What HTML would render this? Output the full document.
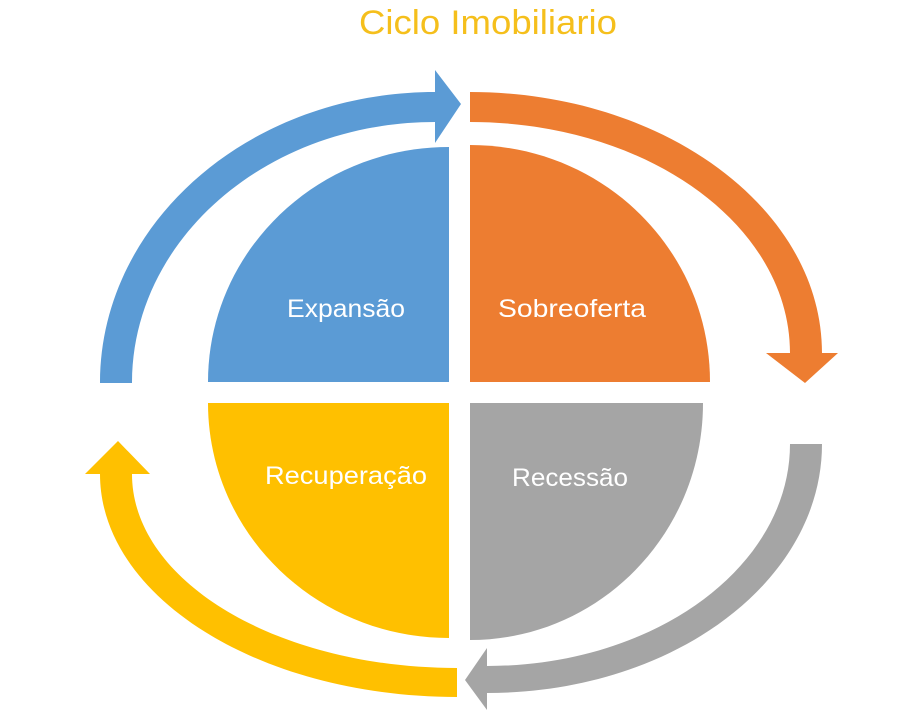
<!DOCTYPE html>
<html><head><style>
html,body{margin:0;padding:0;background:#fff;}
svg{display:block;}
text{font-family:"Liberation Sans",sans-serif;}
</style></head><body>
<svg width="920" height="720" viewBox="0 0 920 720">
<text x="488" y="34" text-anchor="middle" font-size="34" fill="#F5BF1C" textLength="258" lengthAdjust="spacingAndGlyphs">Ciclo Imobiliario</text>
<path d="M449,382 L208,382 C208,252 316,147 449,147 Z" fill="#5B9BD5"/>
<path d="M470,382 L710,382 C710,250 603,145 470,145 Z" fill="#ED7D31"/>
<path d="M470,403 L703,403 C703,534 599,640 470,640 Z" fill="#A5A5A5"/>
<path d="M449,403 L208,403 C208,533 316,638 449,638 Z" fill="#FFC000"/>
<g font-size="25" fill="#fff" text-anchor="middle">
<text x="346" y="317" textLength="118" lengthAdjust="spacingAndGlyphs">Expansão</text>
<text x="572" y="317" textLength="148" lengthAdjust="spacingAndGlyphs">Sobreoferta</text>
<text x="570" y="486" textLength="116" lengthAdjust="spacingAndGlyphs">Recessão</text>
<text x="346" y="484" textLength="162" lengthAdjust="spacingAndGlyphs">Recuperação</text>
</g>
<path d="M100,383 C100,222 250,92 435,92 L435,70 L461,104 L435,143 L435,122 C267,122 132,239 132,383 Z" fill="#5B9BD5"/>
<path d="M470,92 C664,92 822,209 822,353 L838,353 L805,383 L766,353 L790,353 C790,225 647,122 470,122 Z" fill="#ED7D31"/>
<path d="M822,444 C822,582 672,693 487,693 L487,710 L465,680 L487,648 L487,666 C654,666 790,567 790,444 Z" fill="#A5A5A5"/>
<path d="M457,697 C260,697 100,597 100,474 L85,474 L118,441 L150,474 L132,474 C132,581 277,668 457,668 Z" fill="#FFC000"/>
</svg>
</body></html>
